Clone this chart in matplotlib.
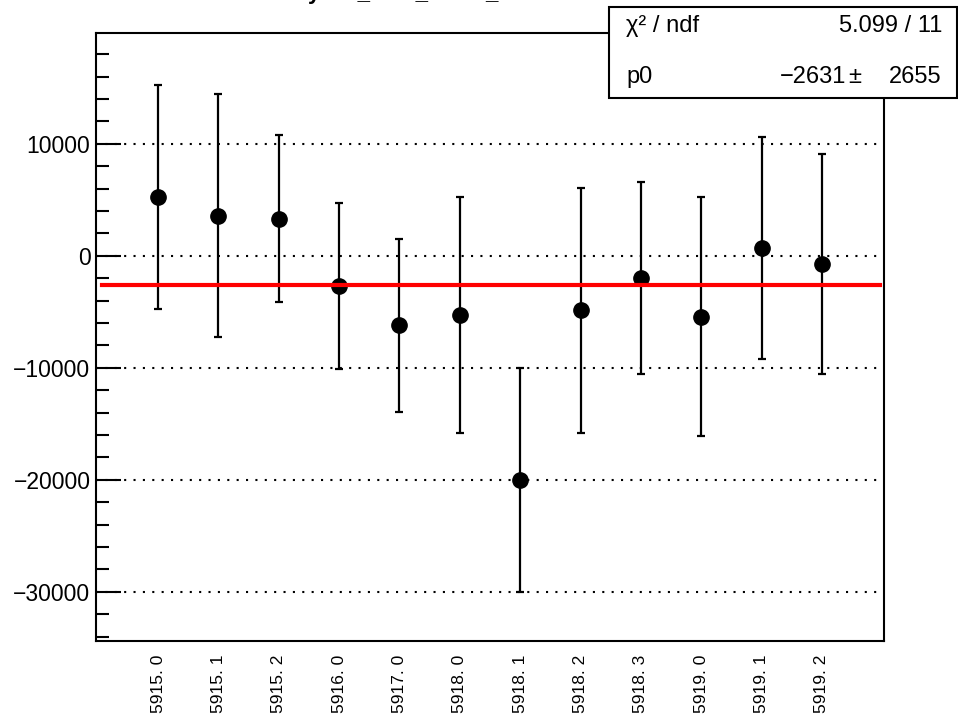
import matplotlib
matplotlib.use("Agg")
import matplotlib.pyplot as plt
from matplotlib.patches import Rectangle
from matplotlib.ticker import MultipleLocator

plt.rcParams['font.family'] = ['Liberation Sans', 'DejaVu Sans']

# data
run_labels = ["5915. 0", "5915. 1", "5915. 2", "5916. 0", "5917. 0", "5918. 0",
              "5918. 1", "5918. 2", "5918. 3", "5919. 0", "5919. 1", "5919. 2"]
values = [5260, 3600, 3330, -2680, -6220, -5270, -20000, -4850, -1990, -5420, 710, -710]
errors = [10020, 10860, 7460, 7400, 7730, 10540, 10000, 10950, 8600, 10650, 9930, 9830]

fit_p0 = -2631
fit_p0_err = 2655
chi2 = 5.099
ndf = 11
title = "yield_bcm_mean_ds"

W, H = 958, 716
fig = plt.figure(figsize=(W / 100, H / 100), dpi=100)
ax = fig.add_axes([96 / W, (H - 641) / H, (884 - 96) / W, (641 - 33) / H])

x = list(range(len(values)))
ax.set_xlim(-1.03, 12.03)
ax.set_ylim(-34400, 19900)

# horizontal grid only
ax.yaxis.grid(True, color="black", linestyle=(0, (1, 3.5)), linewidth=1.5, zorder=0)

ax.errorbar(x, values, yerr=errors, fmt="o", color="black", markersize=11,
            elinewidth=1.6, capsize=3, capthick=1.6, zorder=3)

# constant fit
fit_lo, fit_hi = -0.93, 11.96
ax.plot([fit_lo, fit_hi], [fit_p0, fit_p0], color="red", linewidth=3, zorder=4)

ax.yaxis.set_major_locator(MultipleLocator(10000))
ax.yaxis.set_minor_locator(MultipleLocator(2000))
ax.tick_params(axis="y", which="major", direction="in", length=18, width=1.5,
               labelsize=16.5, pad=4)
ax.tick_params(axis="y", which="minor", direction="in", length=9, width=1.5)
ax.set_xticks(x)
ax.set_xticklabels(run_labels, rotation=90, fontsize=12.5)
ax.tick_params(axis="x", length=0, pad=10)
for s in ax.spines.values():
    s.set_linewidth(1.5)

# title (cut off at the top edge, as in the original)
fig.text(308 / W, 1 + 1 / H, title, fontsize=16, fontweight="bold",
         ha="left", va="baseline")

# stats box
box = Rectangle((609 / W, 1 - 98 / H), (W - 1 - 609) / W, (98 - 7) / H,
                transform=fig.transFigure, facecolor="white", edgecolor="black",
                linewidth=1.5, zorder=10)
fig.patches.append(box)
fs = 17
fig.text(626 / W, 1 - 32 / H, "\u03c7\u00b2 / ndf", fontsize=fs, ha="left",
         va="baseline", zorder=11)
fig.text(942 / W, 1 - 32 / H, f"{chi2:.3f} / {ndf}", fontsize=fs, ha="right",
         va="baseline", zorder=11)
fig.text(626 / W, 1 - 83 / H, "p0", fontsize=fs, ha="left", va="baseline", zorder=11)
fig.text(846 / W, 1 - 83 / H, f"{fit_p0}".replace("-", "\u2212"), fontsize=fs,
         ha="right", va="baseline", zorder=11)
fig.text(855 / W, 1 - 83 / H, "\u00b1", fontsize=fs, ha="center", va="baseline",
         zorder=11)
fig.text(942 / W, 1 - 83 / H, f"{fit_p0_err}", fontsize=fs, ha="right",
         va="baseline", zorder=11)

fig.savefig("out.png", dpi=100)
